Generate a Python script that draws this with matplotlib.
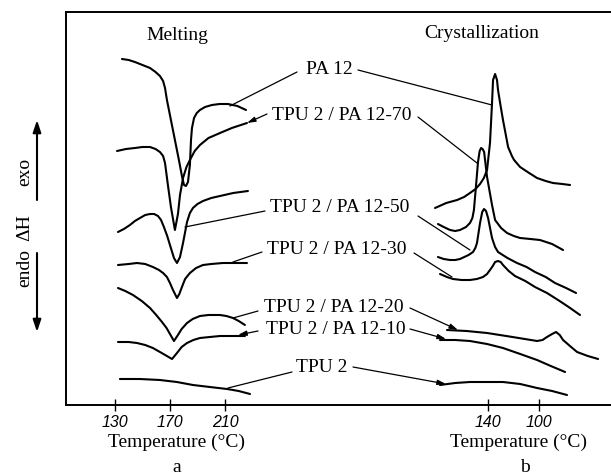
import matplotlib.pyplot as plt
from matplotlib.patches import FancyArrowPatch

# DSC traces: temperature (degC) and heat flow dH (a.u., exo up)
# (a) melting, heating scan
pa12_melt_T = [135.1, 140.0, 144.5, 150.0, 155.5, 159.5, 162.7, 165.0, 166.4, 167.8, 170.7,
               173.6, 176.5, 178.7, 180.2, 181.6, 183.1, 184.5, 185.3, 186.0, 187.5, 189.5,
               191.8, 195.5, 200.5, 206.0, 212.2, 219.0, 225.3]
pa12_melt_dH = [34.6, 34.5, 34.3, 34.0, 33.7, 33.3, 32.9, 32.4, 31.7, 30.5, 28.5,
                26.5, 24.5, 22.9, 22.0, 21.9, 22.3, 24.0, 26.5, 27.7, 28.7, 29.2,
                29.5, 29.8, 30.0, 30.1, 30.1, 29.9, 29.5]
pa70_melt_T = [131.5, 138.0, 144.5, 150.0, 155.5, 159.5, 162.7, 165.0, 166.4, 168.5, 170.7,
               173.6, 175.8, 177.3, 179.5, 182.0, 184.5, 188.0, 191.8, 198.0, 206.4, 215.0, 226.0]
pa70_melt_dH = [25.4, 25.6, 25.7, 25.8, 25.8, 25.6, 25.3, 24.9, 24.2, 22.0, 19.8,
                17.5, 19.1, 21.0, 22.7, 23.8, 24.5, 25.4, 26.0, 26.7, 27.2, 27.7, 28.2]
pa50_melt_T = [132.2, 136.5, 140.9, 144.5, 148.2, 152.0, 155.5, 158.5, 161.3, 163.5, 165.6,
               168.0, 170.0, 172.9, 175.1, 177.3, 179.5, 182.4, 184.5, 186.7, 190.0, 194.0,
               200.0, 206.4, 216.0, 226.7]
pa50_melt_dH = [17.3, 17.6, 18.0, 18.4, 18.7, 19.0, 19.1, 19.1, 18.9, 18.5, 17.8,
                16.9, 16.0, 14.7, 14.2, 14.8, 16.2, 18.3, 19.2, 19.7, 20.1, 20.4,
                20.7, 20.9, 21.2, 21.4]
pa30_melt_T = [132.2, 140.0, 146.0, 152.0, 157.6, 162.0, 165.0, 167.8, 170.0, 172.2, 175.1,
               176.8, 178.7, 181.0, 184.5, 189.0, 194.0, 200.0, 208.5, 217.0, 226.0]
pa30_melt_dH = [14.0, 14.1, 14.2, 14.1, 13.8, 13.5, 13.2, 12.8, 12.2, 11.5, 10.7,
                11.1, 11.8, 12.6, 13.2, 13.7, 14.0, 14.1, 14.2, 14.2, 14.2]
pa20_melt_T = [132.2, 137.5, 143.1, 149.5, 155.5, 160.0, 164.2, 167.5, 170.0, 172.9, 175.8,
               178.5, 182.4, 186.5, 191.8, 198.0, 206.4, 211.0, 215.8, 220.0, 224.5]
pa20_melt_dH = [11.7, 11.4, 11.0, 10.4, 9.7, 9.0, 8.3, 7.7, 7.1, 6.4, 7.0,
                7.6, 8.2, 8.6, 8.9, 9.0, 9.0, 8.9, 8.7, 8.4, 8.0]
pa10_melt_T = [132.2, 140.0, 146.0, 152.0, 157.6, 164.0, 171.5, 175.1, 178.5, 182.4, 187.0,
               191.8, 199.0, 206.4, 215.0, 224.5]
pa10_melt_dH = [6.3, 6.3, 6.2, 6.0, 5.7, 5.2, 4.6, 5.2, 5.8, 6.2, 6.5,
                6.7, 6.8, 6.9, 6.9, 6.9]
tpu_melt_T = [133.6, 148.0, 162.7, 175.0, 186.7, 199.0, 211.5, 220.0, 228.2]
tpu_melt_dH = [2.6, 2.6, 2.5, 2.3, 2.0, 1.8, 1.6, 1.4, 1.1]

# (b) crystallization, cooling scan
pa12_cryst_T = [181.8, 173.0, 164.5, 159.0, 154.4, 150.0, 146.5, 143.5, 141.0, 138.7, 137.1,
                136.3, 134.7, 133.2, 132.4, 130.5, 128.5, 124.5, 121.5, 119.8, 115.1, 108.0,
                101.8, 95.0, 89.3, 82.0, 75.9]
pa12_cryst_dH = [19.7, 20.2, 20.5, 20.8, 21.2, 21.6, 22.1, 22.7, 23.5, 26.2, 30.2,
                 32.5, 33.1, 32.5, 31.5, 30.0, 28.5, 25.8, 24.9, 24.5, 23.8, 23.2,
                 22.7, 22.4, 22.2, 22.1, 22.0]
pa70_cryst_T = [179.5, 175.0, 170.0, 166.0, 162.2, 157.5, 154.4, 152.5, 151.3, 149.6, 148.1,
                146.8, 145.7, 144.5, 143.3, 141.0, 137.1, 134.7, 130.0, 125.3, 120.0, 115.1,
                107.0, 99.5, 90.0, 81.4]
pa70_cryst_dH = [18.1, 17.8, 17.5, 17.4, 17.5, 17.8, 18.2, 18.7, 19.5, 22.0, 24.3,
                 25.4, 25.7, 25.6, 25.3, 22.8, 20.0, 18.5, 17.7, 17.2, 16.9, 16.7,
                 16.6, 16.5, 16.1, 15.5]
pa50_cryst_T = [179.5, 175.0, 170.0, 166.0, 162.2, 155.5, 152.0, 150.2, 148.9, 146.5, 144.8,
                143.4, 141.8, 140.2, 137.1, 134.7, 132.4, 125.0, 117.5, 110.0, 103.4, 95.0,
                87.7, 79.0, 71.2]
pa50_cryst_dH = [14.8, 14.6, 14.5, 14.5, 14.6, 15.0, 15.3, 15.7, 16.2, 18.2, 19.3,
                 19.6, 19.4, 18.7, 16.7, 15.8, 15.3, 14.7, 14.2, 13.8, 13.3, 12.8,
                 12.2, 11.7, 11.2]
pa30_cryst_T = [177.9, 172.5, 167.7, 161.0, 154.4, 149.0, 144.2, 141.0, 138.7, 136.5, 134.7,
                132.4, 130.3, 128.5, 124.0, 119.1, 111.0, 103.4, 94.0, 85.3, 77.0, 68.1]
pa30_cryst_dH = [13.1, 12.8, 12.6, 12.5, 12.5, 12.6, 12.8, 13.1, 13.5, 13.9, 14.3,
                 14.4, 14.3, 14.0, 13.4, 12.9, 12.4, 11.8, 11.2, 10.5, 9.8, 9.0]
pa20_cryst_T = [172.4, 157.0, 141.0, 121.0, 101.8, 97.5, 94.0, 90.0, 86.9, 84.0, 81.4,
                76.0, 70.4, 62.0, 53.9]
pa20_cryst_dH = [7.5, 7.4, 7.2, 6.8, 6.4, 6.5, 6.8, 7.1, 7.3, 7.0, 6.5,
                 5.9, 5.3, 4.9, 4.6]
pa10_cryst_T = [177.9, 166.0, 154.4, 141.0, 128.5, 115.0, 101.8, 91.0, 79.8]
pa10_cryst_dH = [6.5, 6.5, 6.4, 6.1, 5.7, 5.1, 4.5, 3.9, 3.3]
tpu_cryst_T = [177.9, 166.0, 154.4, 141.0, 128.5, 115.0, 101.8, 90.0, 78.3]
tpu_cryst_dH = [2.0, 2.2, 2.3, 2.3, 2.3, 2.1, 1.7, 1.4, 1.0]

labels = ["PA 12", "TPU 2 / PA 12-70", "TPU 2 / PA 12-50", "TPU 2 / PA 12-30",
          "TPU 2 / PA 12-20", "TPU 2 / PA 12-10", "TPU 2"]
melt_ticks = [130, 170, 210]
cryst_ticks = [140, 100]

plt.rcParams["font.family"] = ["Liberation Serif", "DejaVu Serif"]

W, H = 611, 474


def fx(px):
    return px / W


def fy(py):
    return 1 - py / H


fig = plt.figure(figsize=(W / 100, H / 100), dpi=100)
ax = fig.add_axes([fx(66), fy(405), fx(611) - fx(66), fy(12) - fy(405)])
ax.set_xlim(94.4, 490.7)
ax.set_ylim(0, 39.3)
axr = ax.twiny()
axr.set_xlim(471.2, 43.8)

for s in ["left", "top", "bottom"]:
    ax.spines[s].set_linewidth(1.4)
ax.spines["right"].set_visible(False)
for s in axr.spines.values():
    s.set_visible(False)
ax.set_yticks([])
axr.xaxis.set_ticks_position("bottom")

ax.set_xticks(melt_ticks)
axr.set_xticks(cryst_ticks)
for a in (ax, axr):
    a.tick_params(axis="x", direction="inout", length=8, width=1.0, pad=3, labelsize=11.5)
    for lab in a.get_xticklabels():
        lab.set_fontstyle("italic")
        lab.set_family("Liberation Sans")

kw = dict(color="black", lw=1.5, solid_capstyle="round", solid_joinstyle="round")
melt = [(pa12_melt_T, pa12_melt_dH), (pa70_melt_T, pa70_melt_dH), (pa50_melt_T, pa50_melt_dH),
        (pa30_melt_T, pa30_melt_dH), (pa20_melt_T, pa20_melt_dH), (pa10_melt_T, pa10_melt_dH),
        (tpu_melt_T, tpu_melt_dH)]
cryst = [(pa12_cryst_T, pa12_cryst_dH), (pa70_cryst_T, pa70_cryst_dH),
         (pa50_cryst_T, pa50_cryst_dH), (pa30_cryst_T, pa30_cryst_dH),
         (pa20_cryst_T, pa20_cryst_dH), (pa10_cryst_T, pa10_cryst_dH),
         (tpu_cryst_T, tpu_cryst_dH)]
for T, dH in melt:
    ax.plot(T, dH, **kw)
for T, dH in cryst:
    axr.plot(T, dH, **kw)

# label positions (figure px) and leader ends on the curves (data)
label_xy = [(329, 69), (342, 115), (340, 208), (337, 250), (334, 307), (336, 330), (322, 368)]
left_from = [(297, 72), (267, 114), (265, 211), (262, 252), (258, 311), (258, 331), (292, 372)]
left_to = [(213.6, 29.9), (226.0, 28.2), (180.9, 17.8), (215.8, 14.3), (215.8, 8.7),
           (219.5, 7.0), (212.2, 1.7)]
left_head = [False, True, False, False, False, True, False]
right_from = [(358, 70), (418, 117), (418, 216), (414, 253), (410, 308), (410, 329), (353, 367)]
right_to = [(137.1, 30.0), (148.9, 24.2), (154.4, 15.5), (168.5, 12.8), (163.8, 7.5),
            (173.2, 6.6), (173.2, 2.1)]
right_head = [False, False, False, False, True, True, True]


def leader(a, to, frm, head):
    style = "-|>,head_length=0.5,head_width=0.15" if head else "-"
    a.annotate("", xy=to, xycoords="data",
               xytext=(fx(frm[0]), fy(frm[1])), textcoords="figure fraction",
               arrowprops=dict(arrowstyle=style, lw=0.9, color="black",
                               shrinkA=0, shrinkB=0, mutation_scale=10))


for i, lab in enumerate(labels):
    fig.text(fx(label_xy[i][0]), fy(label_xy[i][1]), lab, ha="center", va="center", fontsize=14)
    leader(ax, left_to[i], left_from[i], left_head[i])
    leader(axr, right_to[i], right_from[i], right_head[i])

fig.text(fx(177), fy(35), "Melting", ha="center", va="center", fontsize=14)
fig.text(fx(482), fy(33), "Crystallization", ha="center", va="center", fontsize=14)
fig.text(fx(177), fy(442), "Temperature (°C)", ha="center", va="center", fontsize=14)
fig.text(fx(519), fy(442), "Temperature (°C)", ha="center", va="center", fontsize=14)
fig.text(fx(177), fy(467), "a", ha="center", va="center", fontsize=14)
fig.text(fx(525), fy(467), "b", ha="center", va="center", fontsize=14)

fig.text(fx(25), fy(172), "exo", rotation=90, ha="center", va="center", fontsize=14)
fig.text(fx(25), fy(228), "ΔH", rotation=90, ha="center", va="center", fontsize=14)
fig.text(fx(25), fy(268), "endo", rotation=90, ha="center", va="center", fontsize=14)
ak = dict(arrowstyle="-|>,head_length=0.6,head_width=0.2", lw=1.5, color="black",
          shrinkA=0, shrinkB=0, mutation_scale=12, transform=fig.transFigure)
fig.add_artist(FancyArrowPatch((fx(37), fy(200)), (fx(37), fy(120)), **ak))
fig.add_artist(FancyArrowPatch((fx(37), fy(253)), (fx(37), fy(332)), **ak))

fig.savefig("out.png", dpi=100)
